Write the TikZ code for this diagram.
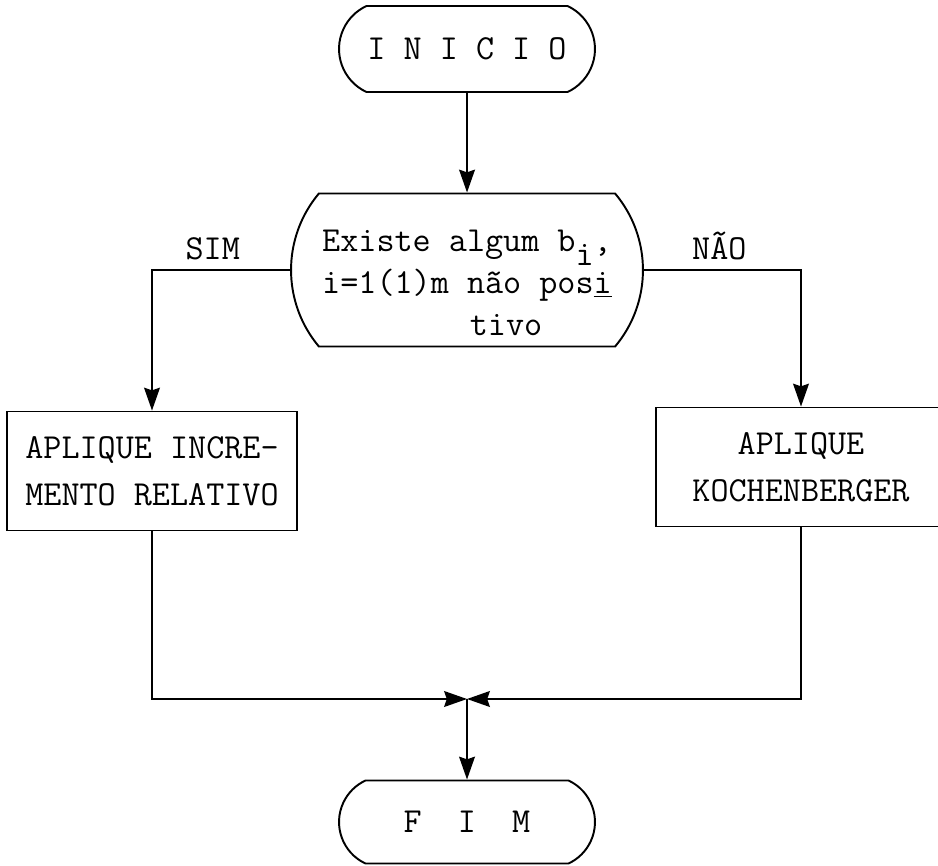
\documentclass[tikz,border=0pt]{standalone}
\usepackage{fontspec}
\usetikzlibrary{arrows.meta,shapes.misc}
\tikzset{every node/.append style={font=\ttfamily\fontsize{20}{24}\selectfont}}
\tikzset{
  terminal/.style={draw,line width=1.1pt,rounded rectangle,rounded rectangle arc length=130,
    minimum width=5.12cm,minimum height=1.72cm,inner sep=0pt},
  decision/.style={draw,line width=1.1pt,rounded rectangle,rounded rectangle arc length=80,
    minimum width=7.04cm,minimum height=3.06cm,inner sep=0pt,align=left,
    font=\ttfamily\fontsize{20}{24}\selectfont},
  process/.style={draw,line width=1.1pt,rectangle,minimum width=5.8cm,minimum height=2.38cm,
    inner sep=0pt,align=center,font=\ttfamily\fontsize{20}{26.5}\selectfont},
  link/.style={line width=1.1pt},
  answer/.style={inner sep=0pt,above=5pt},
}

\begin{document}
\begin{tikzpicture}[x=0.02cm,y=-0.02cm,>={Stealth[length=13pt,width=9pt,inset=1.5pt]}]
  \useasboundingbox (0,0) rectangle (938,866);
  \node[terminal] (inicio) at (467,49) {I N I C I O};
  \node[decision] (teste) at (467,270)
    {\rule{0pt}{0.95cm}Existe algum b\raisebox{-.4em}{i},\\
     i=1(1)m não pos\underline{i}\\
     \hspace*{4.2em}tivo};
  \node[process] (incr) at (152,471) {APLIQUE INCRE-\\MENTO RELATIVO};
  \node[process] (koch) at (801,467) {APLIQUE\\KOCHENBERGER};
  \node[terminal,minimum height=1.66cm] (fim) at (467,822) {F~~I~~M};
  \coordinate (junta) at (467,699);

  \draw[link,->] (inicio) -- (teste);
  \draw[link,->] (teste.west) -| (incr.north) node[answer,pos=0.28] {SIM};
  \draw[link,->] (teste.east) -| (koch.north) node[answer,pos=0.24] {NÃO};
  \draw[link,->] (incr.south) |- (junta);
  \draw[link,->] (koch.south) |- (junta);
  \draw[link,->] (junta) -- (fim);
\end{tikzpicture}
\end{document}
